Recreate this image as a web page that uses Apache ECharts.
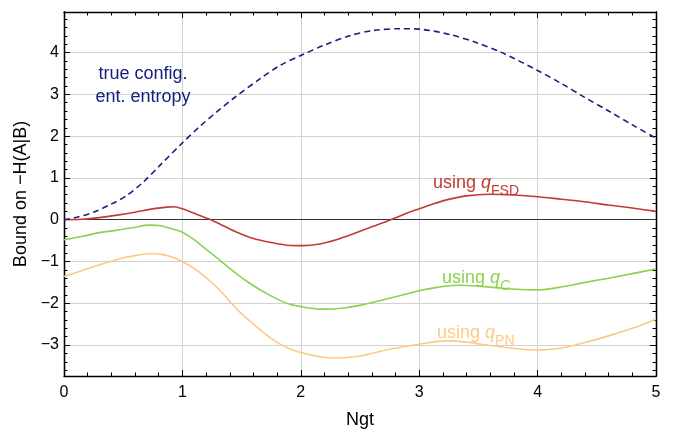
<!DOCTYPE html>
<html><head><meta charset="utf-8">
<script src="https://cdn.jsdelivr.net/npm/echarts@6/dist/echarts.min.js"></script>
<style>html,body{margin:0;padding:0;background:#fff}#c{width:673px;height:434px}</style>
</head><body><div id="c"></div>
<script>
// ---- data ----
const xTicks = [0, 1, 2, 3, 4, 5];
const yTicks = [-3, -2, -1, 0, 1, 2, 3, 4];

const trueX = [0, 0.11, 0.25, 0.39, 0.53, 0.67, 0.81, 1.0, 1.15, 1.29, 1.43, 1.66, 1.83, 2.0, 2.2, 2.42, 2.62, 2.84, 3.0, 3.26, 3.47, 3.69, 4.0, 4.2, 4.39, 4.6, 4.8, 5.0];
const trueY = [0, 0.06, 0.18, 0.36, 0.58, 0.90, 1.30, 1.84, 2.24, 2.58, 2.90, 3.38, 3.70, 3.93, 4.18, 4.41, 4.53, 4.57, 4.56, 4.43, 4.25, 4.01, 3.57, 3.26, 2.94, 2.60, 2.27, 1.95];

const fsdX = [0, 0.15, 0.3, 0.45, 0.6, 0.75, 0.87, 0.93, 1.0, 1.12, 1.24, 1.35, 1.46, 1.6, 1.74, 1.88, 2.02, 2.16, 2.3, 2.45, 2.6, 2.76, 2.9, 3.05, 3.2, 3.4, 3.6, 3.8, 4.0, 4.2, 4.4, 4.6, 4.8, 5.0];
const fsdY = [0, 0.01, 0.05, 0.11, 0.18, 0.26, 0.30, 0.31, 0.26, 0.13, 0, -0.15, -0.30, -0.45, -0.54, -0.61, -0.62, -0.58, -0.48, -0.33, -0.17, 0, 0.16, 0.31, 0.45, 0.57, 0.61, 0.59, 0.55, 0.49, 0.43, 0.35, 0.28, 0.20];

const cX = [0, 0.15, 0.3, 0.45, 0.6, 0.71, 0.8, 0.9, 1.0, 1.09, 1.18, 1.32, 1.46, 1.6, 1.74, 1.88, 2.0, 2.16, 2.3, 2.5, 2.75, 3.0, 3.15, 3.32, 3.5, 3.7, 3.85, 4.0, 4.2, 4.4, 4.6, 4.8, 5.0];
const cY = [-0.48, -0.40, -0.31, -0.25, -0.18, -0.13, -0.14, -0.21, -0.30, -0.46, -0.66, -0.98, -1.30, -1.58, -1.81, -2.00, -2.08, -2.14, -2.13, -2.05, -1.88, -1.70, -1.62, -1.57, -1.59, -1.64, -1.67, -1.68, -1.61, -1.50, -1.40, -1.29, -1.18];

const pnX = [0, 0.15, 0.3, 0.45, 0.6, 0.73, 0.82, 0.9, 1.0, 1.09, 1.18, 1.32, 1.46, 1.6, 1.74, 1.88, 2.0, 2.16, 2.3, 2.5, 2.75, 3.0, 3.23, 3.4, 3.57, 3.8, 4.0, 4.2, 4.4, 4.6, 4.8, 5.0];
const pnY = [-1.36, -1.22, -1.08, -0.95, -0.86, -0.81, -0.83, -0.88, -1.00, -1.15, -1.34, -1.70, -2.14, -2.50, -2.82, -3.06, -3.18, -3.28, -3.31, -3.26, -3.10, -2.98, -2.90, -2.93, -3.00, -3.08, -3.12, -3.07, -2.94, -2.78, -2.60, -2.38];

// ---- build ----
const yMinor = [];
for (let i = -18; i <= 24; i++) { if (i % 5 !== 0) yMinor.push(i / 5); }
const pairs = (xs, ys) => xs.map((x, i) => [x, ys[i]]);

const FONT = '"Liberation Sans", Arial, sans-serif';
const NAVY = '#16207f', RED = '#c23b33', GREEN = '#8cd150', ORANGE = '#fdca85';
const YMIN = -3.74, YMAX = 4.97;
const fmt = v => (v < 0 ? '\u2212' + Math.abs(v) : String(v));

const xBase = {
  type: 'value', min: 0, max: 5, interval: 1,
  axisLine: { show: true, onZero: false, lineStyle: { color: '#000', width: 1.3 } },
  axisTick: { show: true, inside: true, length: 6, lineStyle: { color: '#000', width: 1 } },
  minorTick: { show: true, splitNumber: 5, length: 3.5, lineStyle: { color: '#000', width: 1 } },
};
const yBase = {
  type: 'value', min: YMIN, max: YMAX,
  axisLine: { show: true, onZero: false, lineStyle: { color: '#000', width: 1.3 } },
};
const lineSeries = (xs, ys, color, z, dash) => ({
  type: 'line', data: pairs(xs, ys), smooth: 0.3, showSymbol: false, z: z,
  lineStyle: dash ? { color: color, width: 1.6, type: dash } : { color: color, width: 1.6 }
});

const chart = echarts.init(document.getElementById('c'));
const fsdSeries = lineSeries(fsdX, fsdY, RED, 5);
fsdSeries.markLine = {
  silent: true, symbol: 'none', label: { show: false }, animation: false,
  lineStyle: { color: '#333', width: 1.2, type: 'solid' },
  data: [{ yAxis: 0 }]
};
chart.setOption({
  animation: false,
  backgroundColor: '#fff',
  grid: { left: 64, right: 17, top: 12, bottom: 57, containLabel: false },
  xAxis: [
    Object.assign({}, xBase, {
      position: 'bottom',
      axisLabel: { show: true, fontSize: 16, color: '#000', margin: 9, fontFamily: FONT, formatter: fmt },
      splitLine: { show: true, lineStyle: { color: '#d2d2d2', width: 1 } },
      name: 'Ngt', nameLocation: 'middle', nameGap: 35,
      nameTextStyle: { fontSize: 18, color: '#000', fontFamily: FONT }
    }),
    Object.assign({}, xBase, {
      position: 'top',
      axisLabel: { show: false },
      splitLine: { show: false }
    })
  ],
  yAxis: [
    Object.assign({}, yBase, {
      position: 'left',
      axisTick: { show: true, inside: true, length: 6, customValues: yTicks, lineStyle: { color: '#000' } },
      axisLabel: { show: true, customValues: yTicks, formatter: fmt, fontSize: 16, color: '#000', margin: 5, fontFamily: FONT },
      splitLine: { show: true, lineStyle: { color: '#d2d2d2', width: 1 } },
      name: 'Bound on \u2212H(A|B)', nameLocation: 'middle', nameGap: 33,
      nameTextStyle: { fontSize: 18, color: '#000', fontFamily: FONT }
    }),
    Object.assign({}, yBase, {
      position: 'left',
      axisTick: { show: true, inside: true, length: 3.5, customValues: yMinor, lineStyle: { color: '#000' } },
      axisLabel: { show: false }, splitLine: { show: false }
    }),
    Object.assign({}, yBase, {
      position: 'right',
      axisTick: { show: true, inside: true, length: 6, customValues: yTicks, lineStyle: { color: '#000' } },
      axisLabel: { show: false }, splitLine: { show: false }
    }),
    Object.assign({}, yBase, {
      position: 'right',
      axisTick: { show: true, inside: true, length: 3.5, customValues: yMinor, lineStyle: { color: '#000' } },
      axisLabel: { show: false }, splitLine: { show: false }
    })
  ],
  series: [
    fsdSeries,
    lineSeries(cX, cY, GREEN, 5),
    lineSeries(pnX, pnY, ORANGE, 5),
    lineSeries(trueX, trueY, NAVY, 6, [6, 4])
  ],
  graphic: [
    { type: 'text', x: 143, y: 86, z: 100,
      style: { text: 'true config.\nent. entropy', fill: NAVY, fontSize: 18, fontFamily: FONT, align: 'center', verticalAlign: 'middle', lineHeight: 23 } },
    { type: 'text', x: 433, y: 183, z: 100,
      style: { text: '{a|using }{q|q}{s|FSD}', align: 'left', verticalAlign: 'middle', fill: RED,
        rich: { a: { fontSize: 18, fontFamily: FONT, fill: RED, lineHeight: 30 },
                q: { fontSize: 18, fontFamily: FONT, fontStyle: 'italic', fill: RED, lineHeight: 30 },
                s: { fontSize: 14, fontFamily: FONT, fill: RED, lineHeight: 31, verticalAlign: 'bottom' } } } },
    { type: 'text', x: 442, y: 278, z: 100,
      style: { text: '{a|using }{q|q}{s|C}', align: 'left', verticalAlign: 'middle', fill: GREEN,
        rich: { a: { fontSize: 18, fontFamily: FONT, fill: GREEN, lineHeight: 30 },
                q: { fontSize: 18, fontFamily: FONT, fontStyle: 'italic', fill: GREEN, lineHeight: 30 },
                s: { fontSize: 14, fontFamily: FONT, fontStyle: 'italic', fill: GREEN, lineHeight: 31, verticalAlign: 'bottom' } } } },
    { type: 'text', x: 437, y: 333, z: 100,
      style: { text: '{a|using }{q|q}{s|PN}', align: 'left', verticalAlign: 'middle', fill: ORANGE,
        rich: { a: { fontSize: 18, fontFamily: FONT, fill: ORANGE, lineHeight: 30 },
                q: { fontSize: 18, fontFamily: FONT, fontStyle: 'italic', fill: ORANGE, lineHeight: 30 },
                s: { fontSize: 14, fontFamily: FONT, fill: ORANGE, lineHeight: 31, verticalAlign: 'bottom' } } } }
  ]
});
</script>
</body></html>
